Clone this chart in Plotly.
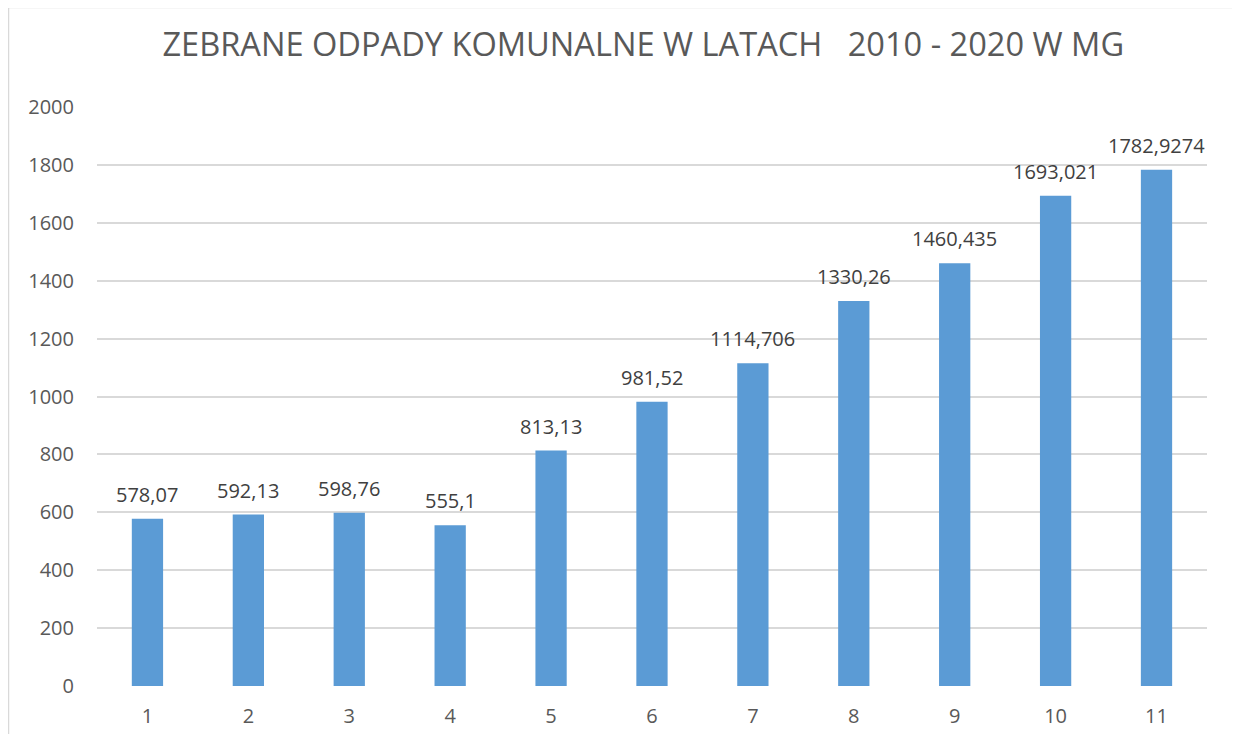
import plotly.graph_objects as go

categories = ["1", "2", "3", "4", "5", "6", "7", "8", "9", "10", "11"]
values = [578.07, 592.13, 598.76, 555.1, 813.13, 981.52, 1114.706, 1330.26, 1460.435, 1693.021, 1782.9274]
y_ticks = [0, 200, 400, 600, 800, 1000, 1200, 1400, 1600, 1800, 2000]
title_text = "ZEBRANE ODPADY KOMUNALNE W LATACH   2010 - 2020 W MG"

labels = [repr(v).replace(".", ",") for v in values]

W, H = 1224, 726
ml, mr, mt, mb = 89, 25, 99, 48
pw, ph = W - ml - mr, H - mt - mb

fig = go.Figure()
fig.add_trace(go.Bar(
    x=categories, y=values,
    marker=dict(color="#5B9BD5", line=dict(width=0)),
    width=0.31,
    hoverinfo="skip",
))

for i, (v, t) in enumerate(zip(values, labels)):
    fig.add_annotation(x=i, y=v, text=t, showarrow=False, yanchor="bottom",
                       yshift=9, font=dict(family="Open Sans", size=20, color="#404040"))

fig.update_layout(
    width=W, height=H,
    margin=dict(l=ml, r=mr, t=mt, b=mb),
    paper_bgcolor="white", plot_bgcolor="white",
    showlegend=False,
    title=dict(text=title_text, x=0.519, xanchor="center", y=1 - 37 / H, yanchor="middle",
               font=dict(family="Open Sans", size=32.6, color="#595959")),
    xaxis=dict(type="category", showgrid=False, zeroline=False, showline=False,
               automargin=False,
               tickfont=dict(family="Open Sans", size=20, color="#595959"),
               ticklabelstandoff=16),
    yaxis=dict(range=[0, 2000], tickvals=y_ticks, showgrid=True, gridcolor="#D9D9D9",
               gridwidth=1.5, zeroline=False, showline=False, automargin=False,
               tickfont=dict(family="Open Sans", size=20, color="#595959"),
               ticklabelstandoff=22),
)

fig.add_shape(type="rect", xref="paper", yref="paper",
              x0=-(ml - 0.5) / pw, x1=1 + (mr + 3) / pw,
              y0=-(mb + 30) / ph, y1=1 + (mt + 0.5) / ph,
              line=dict(color="#D9D9D9", width=1.5), layer="below")

fig.write_html("out.html")
